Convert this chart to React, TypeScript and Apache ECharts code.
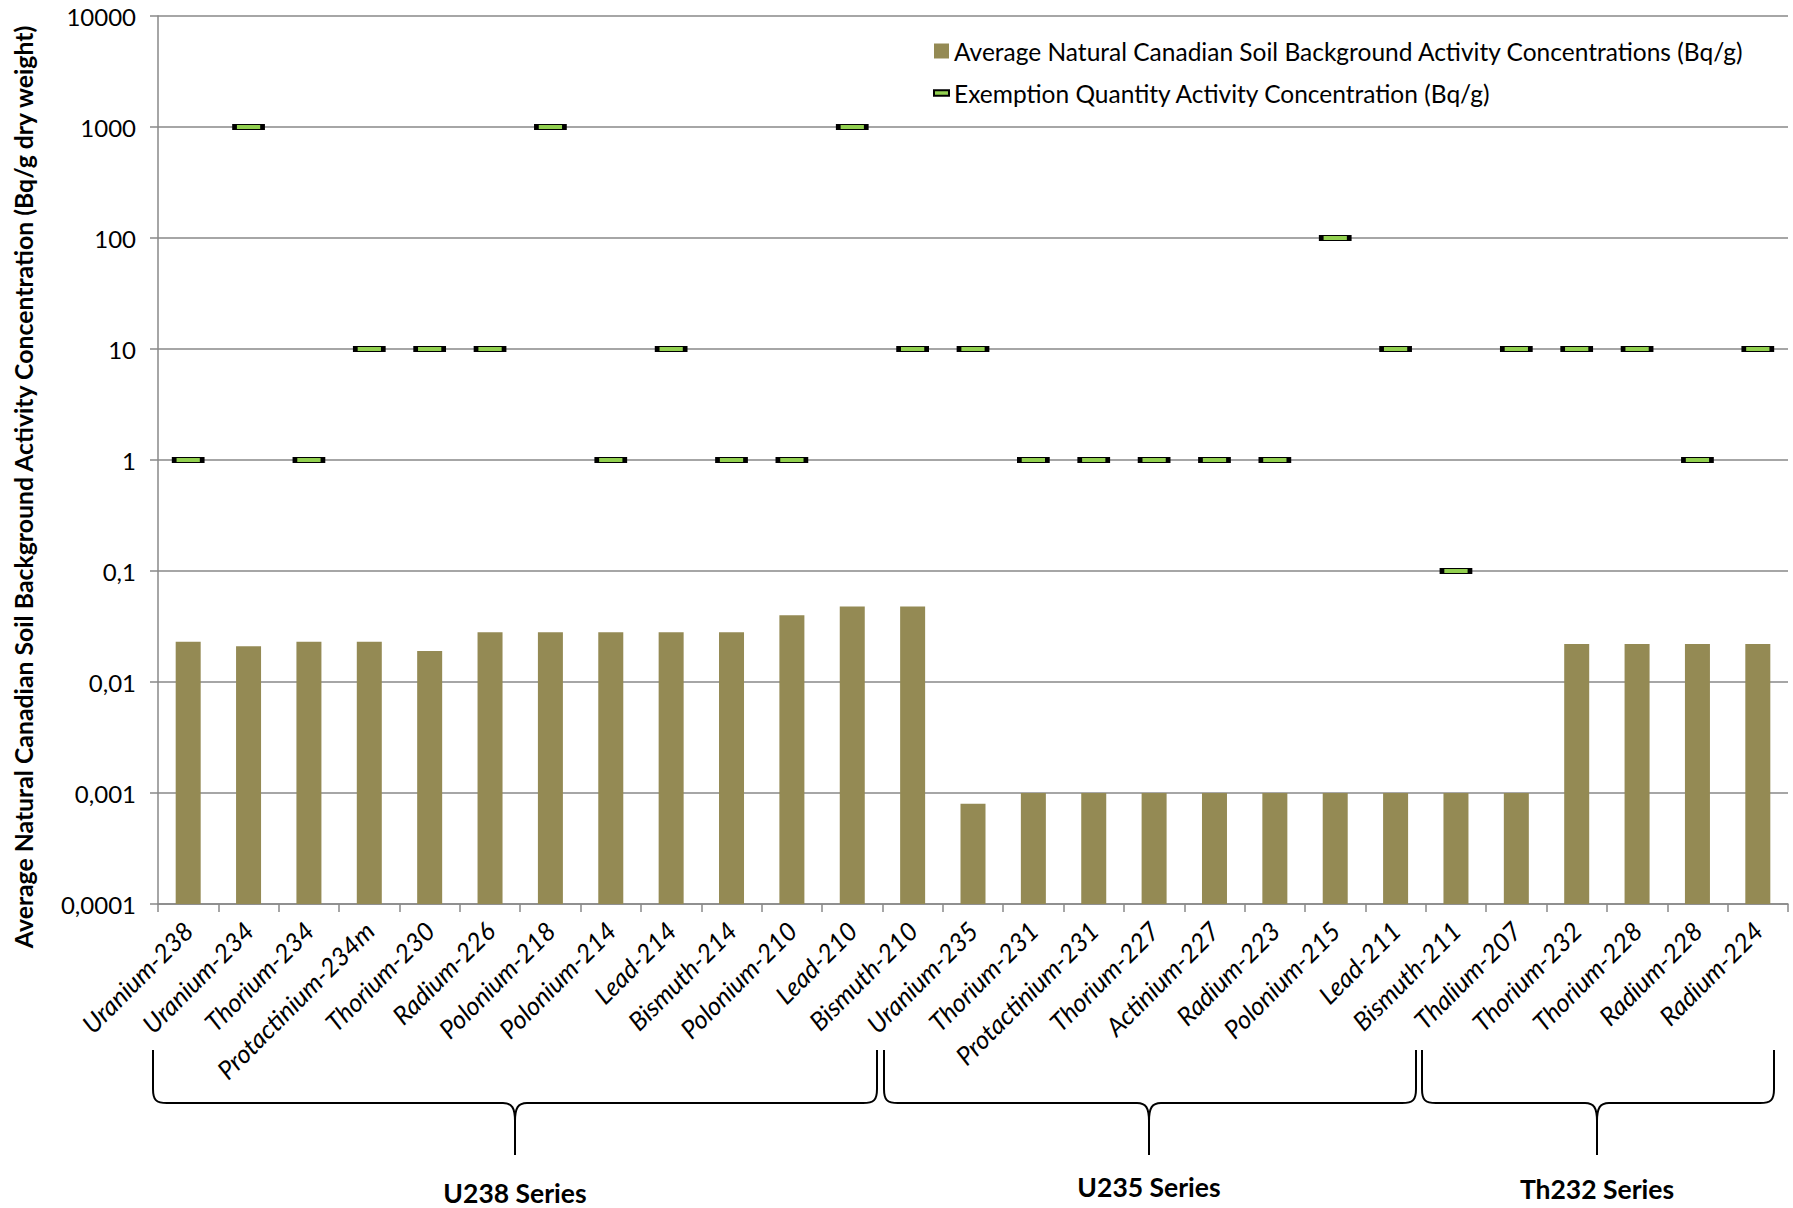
import React, { useEffect, useRef } from "react";
import * as echarts from "echarts";

const categories = [
  "Uranium-238", "Uranium-234", "Thorium-234", "Protactinium-234m", "Thorium-230",
  "Radium-226", "Polonium-218", "Polonium-214", "Lead-214", "Bismuth-214",
  "Polonium-210", "Lead-210", "Bismuth-210", "Uranium-235", "Thorium-231",
  "Protactinium-231", "Thorium-227", "Actinium-227", "Radium-223", "Polonium-215",
  "Lead-211", "Bismuth-211", "Thalium-207", "Thorium-232", "Thorium-228",
  "Radium-228", "Radium-224",
];

const soilBackground = [
  0.023, 0.021, 0.023, 0.023, 0.019,
  0.028, 0.028, 0.028, 0.028, 0.028,
  0.04, 0.048, 0.048, 0.0008, 0.001,
  0.001, 0.001, 0.001, 0.001, 0.001,
  0.001, 0.001, 0.001, 0.022, 0.022,
  0.022, 0.022,
];

const exemption = [
  1, 1000, 1, 10, 10,
  10, 1000, 1, 10, 1,
  1, 1000, 10, 10, 1,
  1, 1, 1, 1, 100,
  10, 0.1, 10, 10, 10,
  1, 10,
];

const yTickLabels = ["0,0001", "0,001", "0,01", "0,1", "1", "10", "100", "1000", "10000"];

const seriesNames = [
  "Average Natural Canadian Soil Background Activity Concentrations (Bq/g)",
  "Exemption Quantity Activity Concentration (Bq/g)",
];

const yAxisTitle = "Average Natural Canadian Soil Background Activity Concentration (Bq/g dry weight)";

const groupLabels = ["U238 Series", "U235 Series", "Th232 Series"];

// decoration geometry (pixels)
const braces = [
  { xl: 153, xr: 877, xc: 515, ty: 1193 },
  { xl: 884, xr: 1416, xc: 1149, ty: 1187 },
  { xl: 1422, xr: 1774, xc: 1597, ty: 1189 },
];

function braceD(xl: number, xr: number, xc: number, top: number, h: number, tip: number) {
  const r = 14;
  return (
    `M${xl},${top} L${xl},${h - 14} C${xl},${h - 3} ${xl + 3},${h} ${xl + r},${h} ` +
    `L${xc - 12},${h} C${xc - 3},${h} ${xc},${h + 5} ${xc},${h + 18} L${xc},${tip} ` +
    `M${xc},${h + 18} C${xc},${h + 5} ${xc + 3},${h} ${xc + 12},${h} ` +
    `L${xr - r},${h} C${xr - 3},${h} ${xr},${h - 3} ${xr},${h - 14} L${xr},${top}`
  );
}

export default function App() {
  const ref = useRef<HTMLDivElement>(null);

  useEffect(() => {
    if (!ref.current) return;
    braces.forEach((b, i) => {
      echarts.graphic.registerShape(
        "brace" + i,
        echarts.graphic.extendPath(braceD(b.xl, b.xr, b.xc, 1050, 1103, 1155), {})
      );
    });
    const chart = echarts.init(ref.current, undefined, { renderer: "svg" });
    const gray = "#888888";
    const option: any = {
      animation: false,
      backgroundColor: "#ffffff",
      textStyle: { fontFamily: "Lato" },
      grid: { left: 158, top: 16, width: 1630, height: 888, containLabel: false },
      legend: {
        orient: "vertical",
        left: 928,
        top: 33,
        itemGap: 16,
        itemWidth: 15,
        itemHeight: 15,
        textStyle: { fontSize: 24.5, color: "#000", fontFamily: "Lato", lineHeight: 26 },
        data: [
          { name: seriesNames[0], icon: "rect" },
          { name: seriesNames[1], icon: "path://M0,0L14,0L14,5L0,5Z" },
        ],
      },
      xAxis: {
        type: "category",
        data: categories,
        axisLine: { show: true, lineStyle: { color: gray, width: 1.5 } },
        axisTick: { show: true, interval: 0, length: 8, lineStyle: { color: gray, width: 1.5 } },
        axisLabel: {
          interval: 0,
          rotate: 45,
          fontStyle: "italic",
          fontSize: 25.5,
          fontFamily: "Lato",
          color: "#000",
          margin: 22,
        },
      },
      yAxis: {
        type: "log",
        logBase: 10,
        min: 0.0001,
        max: 10000,
        startValue: 0.0001,
        splitNumber: 8,
        axisLine: { show: true, lineStyle: { color: gray, width: 1.5 } },
        axisTick: { show: true, length: 8, lineStyle: { color: gray, width: 1.5 } },
        splitLine: { show: true, lineStyle: { color: gray, width: 1.5 } },
        axisLabel: {
          fontSize: 24,
          fontFamily: "Lato",
          color: "#000",
          margin: 22,
          formatter: (v: number) => {
            const e = Math.round(Math.log10(v));
            return yTickLabels[e + 4] ?? "";
          },
        },
      },
      series: [
        {
          name: seriesNames[0],
          type: "bar",
          data: soilBackground,
          barWidth: 25,
          itemStyle: { color: "#948A54" },
        },
        {
          name: seriesNames[1],
          type: "scatter",
          data: exemption,
          symbol: "rect",
          symbolSize: [28, 5],
          z: 5,
          itemStyle: { color: "#92D050", borderColor: "#000", borderWidth: 2, opacity: 1 },
        },
      ],
      graphic: [
        {
          type: "text",
          x: 23,
          y: 487,
          rotation: Math.PI / 2,
          style: {
            text: yAxisTitle,
            font: "bold 24.8px Lato",
            fill: "#000",
            align: "center",
            verticalAlign: "middle",
          },
        },
        ...braces.map((b, i) => ({
          type: "brace" + i,
          x: 0,
          y: 0,
          style: { stroke: "#000", lineWidth: 2, fill: "none" },
        })),
        ...braces.map((b, i) => ({
          type: "text",
          x: b.xc,
          y: b.ty,
          style: {
            text: groupLabels[i],
            font: "bold 26.5px Lato",
            fill: "#000",
            align: "center",
            verticalAlign: "middle",
          },
        })),
      ],
    };
    chart.setOption(option);
    return () => chart.dispose();
  }, []);

  return (
    <div
      ref={ref}
      style={{ position: "fixed", left: 0, top: 0, width: 1793, height: 1208, background: "#fff" }}
    />
  );
}
